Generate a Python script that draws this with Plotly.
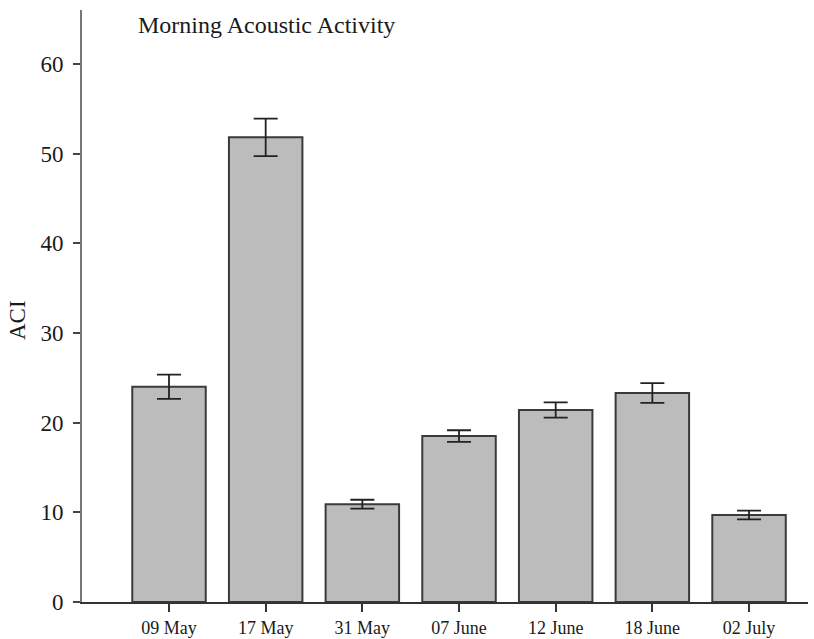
import plotly.graph_objects as go

# Morning acoustic complexity index (ACI) per survey date, mean ± SE
dates = ["09 May", "17 May", "31 May", "07 June", "12 June", "18 June", "02 July"]
aci_mean = [24.0, 51.8, 10.9, 18.5, 21.4, 23.3, 9.7]
aci_err = [1.35, 2.1, 0.5, 0.65, 0.85, 1.1, 0.48]

y_ticks = [0, 10, 20, 30, 40, 50, 60]

serif = "Liberation Serif, Times New Roman, serif"

fig = go.Figure()
fig.add_trace(go.Bar(
    x=dates,
    y=aci_mean,
    marker=dict(color="#bcbcbc", line=dict(color="#3a3a3a", width=2)),
    error_y=dict(type="data", array=aci_err, visible=True,
                 color="#222222", thickness=1.8, width=12),
    showlegend=False,
))

fig.update_layout(
    width=814, height=639,
    margin=dict(l=82, r=6, t=10, b=37),
    paper_bgcolor="white", plot_bgcolor="white",
    bargap=0.24,
    font=dict(family=serif, color="#1a1a1a"),
    xaxis=dict(
        type="category", range=[-0.9, 6.61], automargin=False,
        showline=True, linecolor="#333333", linewidth=2,
        ticks="outside", ticklen=8, tickwidth=2, tickcolor="#333333",
        tickfont=dict(size=18, family=serif, color="#1a1a1a"),
        showgrid=False, zeroline=False,
    ),
    yaxis=dict(
        range=[0, 66], tickvals=y_ticks, automargin=False,
        showline=True, linecolor="#777777", linewidth=2,
        ticks="outside", ticklen=7, tickwidth=2, tickcolor="#444444",
        tickfont=dict(size=23, family=serif, color="#1a1a1a"),
        ticklabelstandoff=5,
        showgrid=False, zeroline=False,
    ),
    annotations=[
        dict(text="Morning Acoustic Activity", xref="paper", yref="paper",
             x=(136 - 82) / 726, y=(602 - 25) / 592, xanchor="left", yanchor="middle",
             showarrow=False, font=dict(size=24, family=serif, color="#1a1a1a")),
        dict(text="ACI", xref="paper", yref="paper",
             x=(17 - 82) / 726, y=(602 - 320) / 592, xanchor="center", yanchor="middle",
             textangle=-90, showarrow=False,
             font=dict(size=23, family=serif, color="#1a1a1a")),
    ],
)

fig.write_html("out.html")
